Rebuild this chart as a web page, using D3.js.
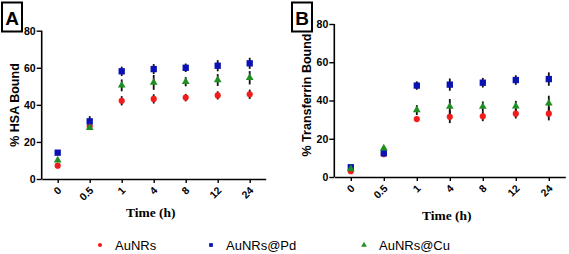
<!DOCTYPE html>
<html>
<head>
<meta charset="utf-8">
<script src="https://cdn.jsdelivr.net/npm/d3@7"></script>
<style>
  body { margin: 0; background: #fff; }
  svg { display: block; }
</style>
</head>
<body>
<div id="chart"></div>
<script>
// time points (h)
const times = ["0", "0.5", "1", "4", "8", "12", "24"];
const yTicks = [0, 20, 40, 60, 80];

// panel A - % HSA bound
const hsaAu = [7.2, 28.4, 42.2, 43.2, 43.9, 45.1, 45.7];
const hsaAuSd = [0.6, 1.5, 2.5, 2.5, 2.0, 2.2, 2.5];
const hsaPd = [14.2, 31.1, 58.1, 59.3, 60.0, 61.1, 62.4];
const hsaPdSd = [1.0, 2.8, 2.5, 2.7, 2.3, 3.0, 3.0];
const hsaCu = [10.1, 27.7, 50.5, 52.1, 52.5, 53.4, 54.6];
const hsaCuSd = [1.0, 1.0, 3.2, 4.0, 2.5, 3.2, 3.6];

// panel B - % transferrin bound
const tfAu = [3.0, 12.0, 30.3, 31.5, 31.7, 33.1, 33.1];
const tfAuSd = [0.5, 1.0, 0.5, 3.3, 2.5, 2.5, 3.5];
const tfPd = [5.1, 12.4, 47.8, 48.3, 49.3, 50.7, 51.2];
const tfPdSd = [1.0, 2.0, 2.2, 3.2, 2.5, 2.5, 3.5];
const tfCu = [4.2, 15.0, 35.0, 36.8, 36.8, 37.0, 38.5];
const tfCuSd = [0.8, 1.0, 2.6, 4.0, 2.7, 2.8, 4.0];

const seriesNames = ["AuNRs", "AuNRs@Pd", "AuNRs@Cu"];
const colors = ["#f21c1c", "#0a12b4", "#1f8f22"];

const W = 569, H = 254;
const svg = d3.select("#chart").append("svg")
  .attr("width", W)
  .attr("height", H);

const symbols = [d3.symbolCircle, d3.symbolSquare, d3.symbolTriangle];
const symSizes = [30, 40, 26];

function drawPanel(opt) {
  const x = d3.scalePoint().domain(times).range([opt.x0, opt.x1]).padding(0.5);
  const y = d3.scaleLinear().domain([0, 80]).range([opt.y0, opt.y1]);

  const g = svg.append("g");

  // y axis
  const ya = g.append("g")
    .attr("transform", "translate(" + opt.x0 + ",0)")
    .call(d3.axisLeft(y).tickValues(yTicks).tickSize(5).tickPadding(1));
  ya.select(".domain").attr("stroke", "#000").attr("stroke-width", 1.6)
    .attr("d", "M0," + opt.y1 + "V" + opt.y0);
  ya.selectAll(".tick line").attr("stroke", "#000").attr("stroke-width", 1.4);
  ya.selectAll(".tick text")
    .style("font-family", "Liberation Sans, Arial, sans-serif")
    .style("font-weight", "bold")
    .style("font-size", "10.5px")
    .attr("fill", "#000");

  // x axis
  const xa = g.append("g")
    .attr("transform", "translate(0," + opt.y0 + ")")
    .call(d3.axisBottom(x).tickSize(4).tickSizeOuter(0));
  xa.select(".domain").attr("stroke", "#000").attr("stroke-width", 1.6);
  xa.selectAll(".tick line").attr("stroke", "#000").attr("stroke-width", 1.4);
  xa.selectAll(".tick text")
    .style("font-family", "Liberation Sans, Arial, sans-serif")
    .style("font-weight", "bold")
    .style("font-size", "10.5px")
    .attr("fill", "#000")
    .attr("text-anchor", "end")
    .attr("dy", null)
    .attr("y", 0)
    .attr("transform", "translate(4,12) rotate(-45)");

  // titles
  g.append("text")
    .attr("transform", "translate(" + opt.ytx + "," + opt.yty + ") rotate(-90)")
    .attr("text-anchor", "middle")
    .style("font-family", "Liberation Sans, Arial, sans-serif")
    .style("font-weight", "bold")
    .style("font-size", "12.5px")
    .text(opt.ylabel);

  g.append("text")
    .attr("x", (opt.x0 + opt.x1) / 2 - 3)
    .attr("y", opt.xty)
    .attr("text-anchor", "middle")
    .style("font-family", "Liberation Serif, Times New Roman, serif")
    .style("font-weight", "bold")
    .style("font-size", "13.5px")
    .text("Time (h)");

  // panel letter
  g.append("rect")
    .attr("x", opt.bx).attr("y", 2.5)
    .attr("width", 20).attr("height", 29)
    .attr("fill", "none").attr("stroke", "#000").attr("stroke-width", 2);
  g.append("text")
    .attr("x", opt.bx + 10).attr("y", 25)
    .attr("text-anchor", "middle")
    .style("font-family", "Liberation Sans, Arial, sans-serif")
    .style("font-weight", "bold")
    .style("font-size", "19px")
    .text(opt.letter);

  // error bars then markers
  opt.series.forEach((s, i) => {
    g.append("g").selectAll("line")
      .data(s.vals)
      .join("line")
      .attr("x1", (d, j) => x(times[j]))
      .attr("x2", (d, j) => x(times[j]))
      .attr("y1", (d, j) => y(d - s.sd[j]))
      .attr("y2", (d, j) => y(d + s.sd[j]))
      .attr("stroke", "#111")
      .attr("stroke-width", 1.8);
  });
  opt.series.forEach((s, i) => {
    g.append("g").selectAll("path")
      .data(s.vals)
      .join("path")
      .attr("transform", (d, j) => "translate(" + x(times[j]) + "," + y(d) + ")")
      .attr("d", d3.symbol().type(symbols[i]).size(symSizes[i]))
      .attr("fill", colors[i]);
  });
}

drawPanel({
  letter: "A", bx: 2,
  x0: 41.7, x1: 265.7, y0: 179, y1: 30.7,
  ylabel: "% HSA Bound", ytx: 19, yty: 105, xty: 217,
  series: [
    { vals: hsaAu, sd: hsaAuSd },
    { vals: hsaPd, sd: hsaPdSd },
    { vals: hsaCu, sd: hsaCuSd }
  ]
});

drawPanel({
  letter: "B", bx: 292,
  x0: 334.3, x1: 565.3, y0: 177, y1: 24,
  ylabel: "% Transferrin Bound", ytx: 311, yty: 95, xty: 220,
  series: [
    { vals: tfAu, sd: tfAuSd },
    { vals: tfPd, sd: tfPdSd },
    { vals: tfCu, sd: tfCuSd }
  ]
});

// legend
const legendX = [100, 211, 364];
const leg = svg.append("g");
seriesNames.forEach((name, i) => {
  leg.append("path")
    .attr("transform", "translate(" + legendX[i] + ",245)")
    .attr("d", d3.symbol().type(symbols[i]).size(14))
    .attr("fill", colors[i]);
  leg.append("text")
    .attr("x", legendX[i] + 15)
    .attr("y", 249.5)
    .style("font-family", "Liberation Sans, Arial, sans-serif")
    .style("font-size", "13px")
    .text(name);
});
</script>
</body>
</html>
